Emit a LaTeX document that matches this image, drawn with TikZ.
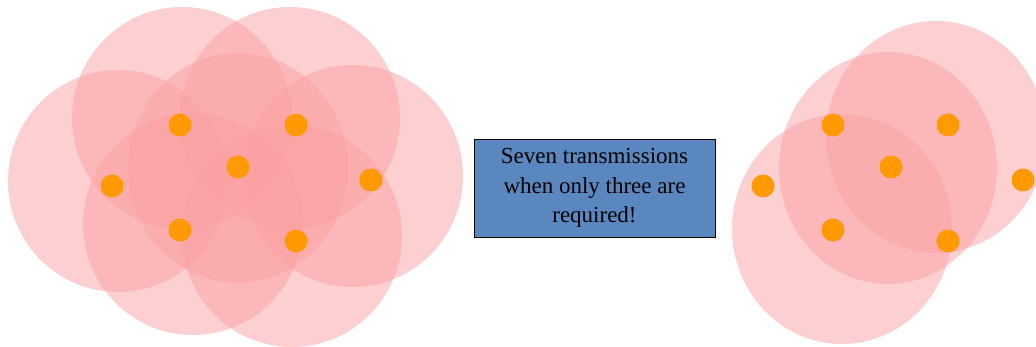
\documentclass[tikz,border=0pt]{standalone}
\usepackage{fontspec}
\setmainfont{Liberation Serif}
\definecolor{rangefill}{RGB}{250,160,162}
\definecolor{dotorange}{RGB}{255,153,0}
\definecolor{boxblue}{RGB}{91,135,192}
\tikzset{
  coverage/.style={fill=rangefill, fill opacity=0.5},
  dot/.style={circle, fill=dotorange, minimum size=23pt, inner sep=0pt},
  msgbox/.style={rectangle, draw=black, line width=0.8pt, fill=boxblue,
    minimum width=241pt, minimum height=98pt, align=center,
    font=\fontsize{23}{29.5}\selectfont}
}
\begin{document}
\begin{tikzpicture}[x=1pt,y=-1pt]
\useasboundingbox (0,0) rectangle (1036,347);
% left cluster ranges
\fill[coverage] (118,181) ellipse [x radius=110pt, y radius=111pt];
\fill[coverage] (182,118) ellipse [x radius=110pt, y radius=111pt];
\fill[coverage] (290,118) ellipse [x radius=110pt, y radius=111pt];
\fill[coverage] (238,168) ellipse [x radius=110pt, y radius=115pt];
\fill[coverage] (353,176) ellipse [x radius=110pt, y radius=111pt];
\fill[coverage] (193,224) ellipse [x radius=110pt, y radius=111pt];
\fill[coverage] (292,236) ellipse [x radius=110pt, y radius=111pt];
% left cluster nodes
\node[dot] (a1) at (180,125) {};
\node[dot] (a2) at (296,125) {};
\node[dot] (a3) at (238,167) {};
\node[dot] (a4) at (112,186) {};
\node[dot] (a5) at (371,180) {};
\node[dot] (a6) at (180,230) {};
\node[dot] (a7) at (296,241) {};
% message
\node[msgbox] (msg) at (594.5,188) {Seven transmissions\\when only three are\\required!};
% right cluster ranges
\fill[coverage] (842,229) ellipse [x radius=110pt, y radius=115pt];
\fill[coverage] (888,168) ellipse [x radius=109pt, y radius=116pt];
\fill[coverage] (936,137) ellipse [x radius=110pt, y radius=116pt];
% right cluster nodes
\node[dot] (b1) at (833,125) {};
\node[dot] (b2) at (948,125) {};
\node[dot] (b3) at (891,167) {};
\node[dot] (b4) at (763,186) {};
\node[dot] (b5) at (1023,180) {};
\node[dot] (b6) at (833,230) {};
\node[dot] (b7) at (948,241) {};
\end{tikzpicture}
\end{document}
